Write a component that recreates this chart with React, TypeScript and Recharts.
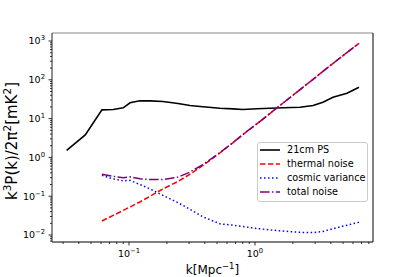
import React from "react";
import { LineChart, Line, XAxis, YAxis, Legend, ReferenceLine } from "recharts";

// k in Mpc^-1
const K_VALUES = [0.032, 0.045, 0.061, 0.075, 0.090, 0.102, 0.122, 0.147, 0.186, 0.245, 0.305, 0.386, 0.527, 0.67, 0.80, 1.04, 1.32, 1.67, 2.28, 2.89, 3.46, 4.16, 5.37, 6.69];
const PS_21CM = [1.51, 3.8, 16.8, 17.1, 19, 25.5, 28.7, 28.7, 27.5, 24.5, 21.7, 20.2, 18.5, 17.8, 17.1, 17.9, 18.5, 19.0, 19.6, 21.7, 26.4, 35.5, 45, 64];
const THERMAL = [null, null, 0.023, 0.032, 0.043, 0.053, 0.071, 0.10, 0.154, 0.24, 0.37, 0.62, 1.31, 2.4, 3.86, 7.4, 13.7, 25.2, 56, 103, 165, 264, 504, 873];
const COSMIC = [null, null, 0.344, 0.28, 0.25, 0.256, 0.20, 0.154, 0.105, 0.068, 0.046, 0.0296, 0.0194, 0.018, 0.0165, 0.0147, 0.0135, 0.0126, 0.0117, 0.0115, 0.0123, 0.0145, 0.0179, 0.0213];
const TOTAL = [null, null, 0.37, 0.325, 0.30, 0.315, 0.28, 0.27, 0.27, 0.31, 0.42, 0.65, 1.33, 2.42, 3.88, 7.4, 13.7, 25.2, 56, 103, 165, 264, 504, 873];

const X_MAJOR = [0.1, 1];
const Y_MAJOR = [0.01, 0.1, 1, 10, 100, 1000];
const X_DOMAIN: [number, number] = [0.0245, 8.64];
const Y_DOMAIN: [number, number] = [0.0066, 1607];

const FONT = "'DejaVu Sans', sans-serif";

const SERIES = [
  { key: "ps", name: "21cm PS", color: "#000000", dash: undefined, width: 1.6 },
  { key: "thermal", name: "thermal noise", color: "#ff0000", dash: "5.5 2.4", width: 1.5 },
  { key: "cosmic", name: "cosmic variance", color: "#0000ff", dash: "1.5 2.5", width: 1.5 },
  { key: "total", name: "total noise", color: "#800080", dash: "9.6 2.4 1.5 2.4", width: 1.5 },
];

const data = K_VALUES.map((k, i) => ({
  k,
  ps: PS_21CM[i],
  thermal: THERMAL[i],
  cosmic: COSMIC[i],
  total: TOTAL[i],
}));

// minor ticks 2..9 inside each decade, clipped to the domain
function logTicks(domain: [number, number]) {
  const out: number[] = [];
  for (let e = -3; e <= 3; e++) {
    for (let m = 1; m <= 9; m++) {
      const v = +(m * Math.pow(10, e)).toPrecision(3);
      if (v >= domain[0] && v <= domain[1]) out.push(v);
    }
  }
  return out;
}

const isMajor = (v: number) => Math.abs(Math.log10(v) - Math.round(Math.log10(v))) < 1e-6;
const expLabel = (v: number) => {
  const e = Math.round(Math.log10(v));
  return e < 0 ? "\u2212" + -e : String(e);
};

function XTick(props: any) {
  const { x, y, payload } = props;
  const v = payload.value;
  const major = isMajor(v);
  return (
    <g>
      <line x1={x} x2={x} y1={y} y2={y + (major ? 3.5 : 2)} stroke="#000" strokeWidth={0.8} />
      {major && X_MAJOR.includes(v) && (
        <text x={x} y={y + 15} textAnchor="middle" fontSize={9.5} fontFamily={FONT} fill="#000">
          10<tspan dy={-4} fontSize={6.8}>{expLabel(v)}</tspan>
        </text>
      )}
    </g>
  );
}

function YTick(props: any) {
  const { x, y, payload } = props;
  const v = payload.value;
  const major = isMajor(v);
  return (
    <g>
      <line x1={x} x2={x - (major ? 3.5 : 2)} y1={y} y2={y} stroke="#000" strokeWidth={0.8} />
      {major && Y_MAJOR.includes(v) && (
        <text x={x - 7} y={y + 3.5} textAnchor="end" fontSize={9.5} fontFamily={FONT} fill="#000">
          10<tspan dy={-4} fontSize={6.8}>{expLabel(v)}</tspan>
        </text>
      )}
    </g>
  );
}

function XTitle() {
  return (
    <text x={212.5} y={274} textAnchor="middle" fontSize={12} fontFamily={FONT} fill="#000">
      k[Mpc<tspan dy={-5} fontSize={8.5}>{"\u22121"}</tspan><tspan dy={5}>]</tspan>
    </text>
  );
}

function YTitle() {
  return (
    <text x={0} y={0} transform="translate(17,141) rotate(-90)" textAnchor="middle" fontSize={15} fontFamily={FONT} fill="#000">
      k<tspan dy={-6} fontSize={10.5}>3</tspan>
      <tspan dy={6}>P(k)/2π</tspan>
      <tspan dy={-6} fontSize={10.5}>2</tspan>
      <tspan dy={6}>[mK</tspan>
      <tspan dy={-6} fontSize={10.5}>2</tspan>
      <tspan dy={6}>]</tspan>
    </text>
  );
}

function LegendBox() {
  return (
    <div
      style={{
        border: "1px solid #cccccc",
        borderRadius: 3,
        background: "rgba(255,255,255,0.8)",
        padding: "0 4px 2px 1px",
        fontFamily: FONT,
        fontSize: 9.7,
        color: "#000",
        boxSizing: "border-box",
        width: 111,
      }}
    >
      {SERIES.map((s) => (
        <div key={s.key} style={{ display: "flex", alignItems: "center", height: 14.1 }}>
          <svg width={22} height={8} style={{ flexShrink: 0 }}>
            <line x1={1} x2={21} y1={4} y2={4} stroke={s.color} strokeWidth={s.width} strokeDasharray={s.dash} />
          </svg>
          <span style={{ marginLeft: 6, whiteSpace: "nowrap", lineHeight: "14px" }}>{s.name}</span>
        </div>
      ))}
    </div>
  );
}

export default function App() {
  return (
    <div style={{ position: "absolute", left: 0, top: 0, background: "#fff" }}>
      <LineChart width={415} height={277} data={data} margin={{ top: 33, right: 42, bottom: 0, left: 8 }}>
        <XAxis
          dataKey="k"
          type="number"
          scale="log"
          domain={X_DOMAIN}
          allowDataOverflow
          ticks={logTicks(X_DOMAIN)}
          interval={0}
          tick={<XTick />}
          tickLine={false}
          tickSize={0}
          tickMargin={0}
          height={35}
          axisLine={{ stroke: "#000", strokeWidth: 1 }}
          label={<XTitle />}
        />
        <YAxis
          type="number"
          scale="log"
          domain={Y_DOMAIN}
          allowDataOverflow
          ticks={logTicks(Y_DOMAIN)}
          interval={0}
          tick={<YTick />}
          tickLine={false}
          tickSize={0}
          tickMargin={0}
          width={44}
          axisLine={{ stroke: "#222", strokeWidth: 1 }}
          label={<YTitle />}
        />
        {/* top and right spines */}
        <ReferenceLine y={Y_DOMAIN[1]} stroke="#888" strokeWidth={1.2} />
        <ReferenceLine x={X_DOMAIN[1]} stroke="#000" strokeWidth={1} />
        <Legend
          layout="vertical"
          align="center"
          verticalAlign="middle"
          content={<LegendBox />}
          wrapperStyle={{ position: "absolute", left: 257, top: 142, width: 111, height: 60 }}
        />
        {SERIES.map((s) => (
          <Line
            key={s.key}
            type="linear"
            dataKey={s.key}
            name={s.name}
            stroke={s.color}
            strokeWidth={s.width}
            strokeDasharray={s.dash}
            dot={false}
            activeDot={false}
            isAnimationActive={false}
          />
        ))}
      </LineChart>
    </div>
  );
}
